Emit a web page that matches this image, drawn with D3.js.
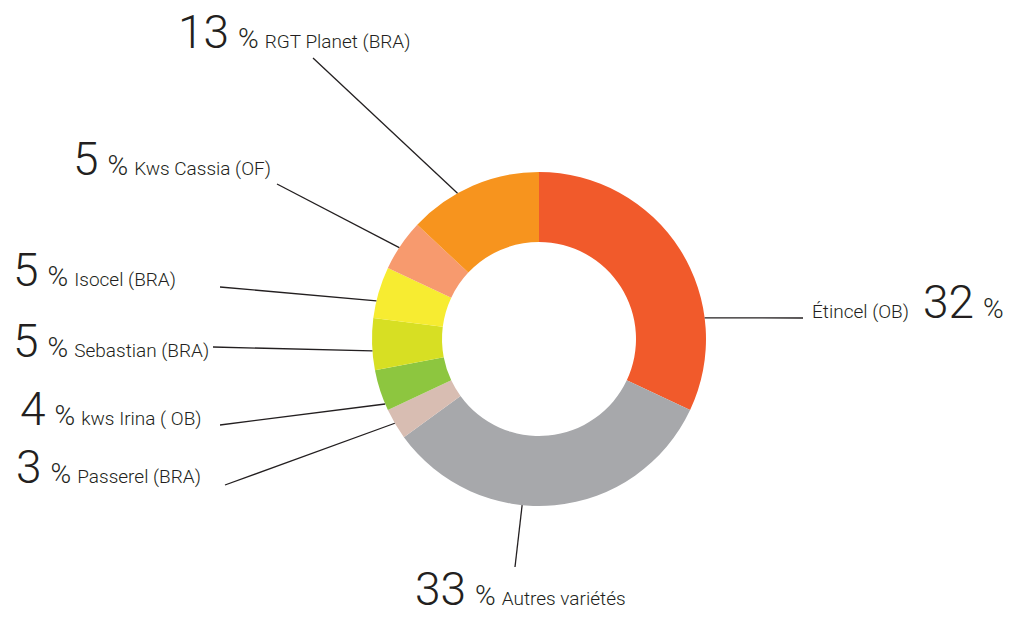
<!DOCTYPE html>
<html>
<head>
<meta charset="utf-8">
<script src="https://cdn.jsdelivr.net/npm/d3@7"></script>
<style>
  body { margin: 0; background: #fff; }
  text { font-family: Roboto, "Open Sans", sans-serif; font-weight: 300; fill: #231f20; }
</style>
</head>
<body>
<div id="chart"></div>
<script>
// varieties, clockwise from 12 o'clock
let names = ["Étincel (OB)", "Autres variétés", "Passerel (BRA)", "kws Irina ( OB)", "Sebastian (BRA)", "Isocel (BRA)", "Kws Cassia (OF)", "RGT Planet (BRA)"];
let shares = [32, 33, 3, 4, 5, 5, 5, 13];
let colors = ["#f15a2b", "#a7a8ab", "#d8bdb2", "#8dc63f", "#d7df23", "#f7ec31", "#f79a6e", "#f7941e"];

// label layout: text anchor, where the leader leaves the ring (deg from top)
let layout = [
  {x: 812, y: 318, lx: 803, ly: 318, angle: 82.7, numFirst: false},
  {x: 415, y: 605, lx: 515, ly: 567, angle: 185.8, numFirst: true},
  {x: 16,  y: 483, lx: 225, ly: 485, angle: 239.7, numFirst: true},
  {x: 20,  y: 425, lx: 220, ly: 425, angle: 247.1, numFirst: true},
  {x: 13,  y: 357, lx: 213, ly: 347, angle: 265.9, numFirst: true},
  {x: 13,  y: 286, lx: 220, ly: 287, angle: 283.2, numFirst: true},
  {x: 73,  y: 175, lx: 277, ly: 184, angle: 303.2, numFirst: true},
  {x: 178, y: 48,  lx: 313, ly: 58,  angle: 330.8, numFirst: true}
];

let w = 1011, h = 617;
let cx = 539, cy = 339;
let rOuter = 167, rInner = 97;

let svg = d3.select("#chart")
  .append("svg")
  .attr("width", w)
  .attr("height", h);

let pie = d3.pie().sort(null).value((d) => d);
let arcs = pie(shares);

let arc = d3.arc()
  .innerRadius(rInner)
  .outerRadius(rOuter);

let g = svg.append("g")
  .attr("transform", "translate(" + cx + "," + cy + ")");

g.selectAll("path")
  .data(arcs)
  .enter()
  .append("path")
  .attr("d", arc)
  .style("fill", (d, i) => colors[i]);

// leader lines
svg.selectAll("line.leader")
  .data(arcs)
  .enter()
  .append("line")
  .attr("class", "leader")
  .attr("x1", (d, i) => cx + rOuter * Math.sin(layout[i].angle * Math.PI / 180))
  .attr("y1", (d, i) => cy - rOuter * Math.cos(layout[i].angle * Math.PI / 180))
  .attr("x2", (d, i) => layout[i].lx)
  .attr("y2", (d, i) => layout[i].ly)
  .style("stroke", "#231f20")
  .style("stroke-width", 1.3);

// labels
let labels = svg.selectAll("text.label")
  .data(arcs)
  .enter()
  .append("text")
  .attr("class", "label")
  .attr("x", (d, i) => layout[i].x)
  .attr("y", (d, i) => layout[i].y);

labels.each(function(d, i) {
  let t = d3.select(this);
  if (layout[i].numFirst) {
    t.append("tspan").style("font-size", "46px").text(shares[i]);
    t.append("tspan").style("font-size", "28px").attr("dx", 9).text("%");
    t.append("tspan").style("font-size", "19px").attr("dx", 6).text(names[i]);
  } else {
    t.append("tspan").style("font-size", "19px").text(names[i]);
    t.append("tspan").style("font-size", "46px").attr("dx", 14).text(shares[i]);
    t.append("tspan").style("font-size", "28px").attr("dx", 9).text("%");
  }
});
</script>
</body>
</html>
